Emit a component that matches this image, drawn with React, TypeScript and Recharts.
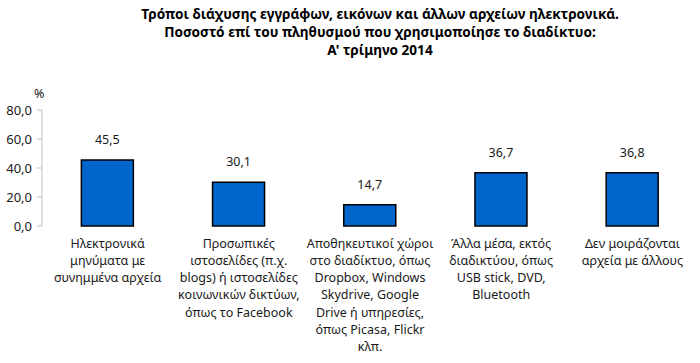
import React from 'react';
import { BarChart, Bar, XAxis, YAxis, LabelList } from 'recharts';

const titleLines = [
  'Τρόποι διάχυσης εγγράφων, εικόνων και άλλων αρχείων ηλεκτρονικά.',
  'Ποσοστό επί του πληθυσμού που χρησιμοποίησε το διαδίκτυο:',
  "Α' τρίμηνο 2014",
];

const categoryLines: string[][] = [
  ['Ηλεκτρονικά', 'μηνύματα με', 'συνημμένα αρχεία'],
  ['Προσωπικές', 'ιστοσελίδες (π.χ.', 'blogs) ή ιστοσελίδες', 'κοινωνικών δικτύων,', 'όπως το Facebook'],
  ['Αποθηκευτικοί χώροι', 'στο διαδίκτυο, όπως', 'Dropbox, Windows', 'Skydrive, Google', 'Drive ή υπηρεσίες,', 'όπως Picasa, Flickr', 'κλπ.'],
  ['Άλλα μέσα, εκτός', 'διαδικτύου, όπως', 'USB stick, DVD,', 'Bluetooth'],
  ['Δεν μοιράζονται', 'αρχεία με άλλους'],
];

const values = [45.5, 30.1, 14.7, 36.7, 36.8];
const yTicks = [0, 20, 40, 60, 80];
const boundaryTicks = [0, 1, 2, 3, 4, 5];
const unitLabel = '%';

const data = categoryLines.map((lines, i) => ({ name: lines.join(' '), value: values[i] }));

const FONT = '"Noto Sans", sans-serif';
const fmt = (v: number) => v.toFixed(1).replace('.', ',');

const CatTick = (props: any) => {
  const { x, y, index } = props;
  const lines = categoryLines[index] || [];
  return (
    <text x={x} y={y} textAnchor="middle" fontSize={12.5} fill="#1a1a1a" fontFamily={FONT}>
      {lines.map((l, i) => (
        <tspan key={i} x={x} dy={i === 0 ? 21.5 : 17.3}>
          {l}
        </tspan>
      ))}
    </text>
  );
};

export default function App() {
  return (
    <div style={{ position: 'absolute', left: 0, top: 0, width: 700, height: 363, background: '#fff', fontFamily: FONT }}>
      <div style={{ position: 'absolute', left: 0, top: 5, width: 760, textAlign: 'center', fontWeight: 700, fontSize: 13.6, lineHeight: '18px', color: '#000' }}>
        {titleLines.map((t, i) => (
          <div key={i}>{t}</div>
        ))}
      </div>
      <div style={{ position: 'absolute', left: 34, top: 85, fontSize: 12.5, color: '#1a1a1a' }}>{unitLabel}</div>
      <BarChart
        width={700}
        height={363}
        data={data}
        margin={{ top: 110, right: 2, bottom: 0, left: 0 }}
        barCategoryGap="30%"
        style={{ position: 'absolute', left: 0, top: 0, fontFamily: FONT }}
      >
        <XAxis
          xAxisId="frame"
          type="number"
          domain={[0, 5]}
          ticks={boundaryTicks}
          allowDataOverflow
          height={0}
          tick={false}
          tickSize={5}
          stroke="#b0b0b0"
          axisLine={{ stroke: '#bfbfbf' }}
          tickLine={{ stroke: '#b0b0b0' }}
        />
        <XAxis
          xAxisId="cat"
          dataKey="name"
          type="category"
          height={137}
          axisLine={false}
          tickLine={false}
          tickSize={0}
          tickMargin={0}
          interval={0}
          tick={<CatTick />}
        />
        <YAxis
          width={42}
          domain={[0, 80]}
          ticks={yTicks}
          tickFormatter={fmt}
          tickSize={5}
          tickMargin={5}
          axisLine={{ stroke: '#bfbfbf' }}
          tickLine={{ stroke: '#bfbfbf' }}
          tick={{ fontSize: 13, fill: '#1a1a1a', fontFamily: FONT }}
        />
        <Bar dataKey="value" xAxisId="cat" fill="#0066CC" stroke="#000" strokeWidth={1.5} isAnimationActive={false}>
          <LabelList dataKey="value" position="top" offset={16} formatter={(v: any) => fmt(Number(v))} style={{ fontSize: 12.5, fill: '#1a1a1a', fontFamily: FONT }} />
        </Bar>
      </BarChart>
    </div>
  );
}
